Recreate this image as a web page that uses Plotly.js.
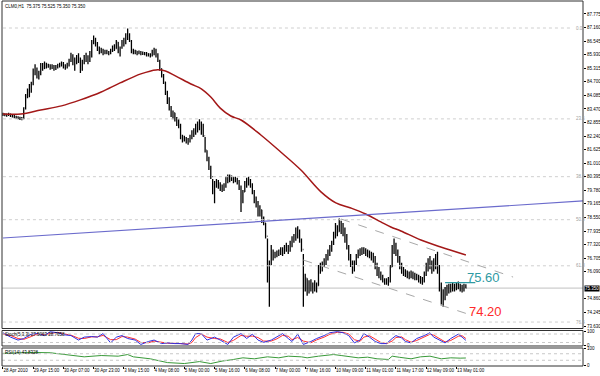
<!DOCTYPE html>
<html><head><meta charset="utf-8">
<script src="https://cdn.plot.ly/plotly-3.0.1.min.js"></script>
<style>html,body{margin:0;padding:0;background:#fff}#chart{width:600px;height:376px}</style>
</head><body><div id="chart"></div>
<script>
// ---- price bars (H1) ----
const opens=[83.22,83.25,83.20,83.22,83.24,83.15,83.18,83.10,83.08,83.05,83.02,83.05,83.50,84.05,84.25,84.45,84.60,85.20,85.10,84.95,85.10,85.45,85.30,85.50,85.38,85.45,85.30,85.42,85.28,85.40,85.45,85.50,85.55,85.38,85.35,85.48,85.70,85.90,85.55,85.65,85.85,85.70,85.30,85.60,85.85,85.80,85.65,86.00,86.50,86.60,86.40,86.20,86.05,86.15,86.00,86.10,86.00,86.05,86.15,86.30,86.20,86.50,86.10,86.25,86.50,86.60,86.80,86.75,86.55,86.10,86.05,86.10,85.98,86.05,85.95,86.02,85.95,85.98,85.90,85.95,86.10,86.05,85.90,85.65,85.30,85.00,84.70,84.20,83.85,83.55,83.20,83.30,83.00,82.85,82.75,82.20,82.10,82.05,82.00,82.05,82.25,82.40,82.50,82.70,82.80,82.60,82.40,82.25,81.60,81.20,80.80,80.40,79.80,80.00,80.20,79.95,79.85,79.80,80.00,80.30,80.40,80.30,80.35,80.20,80.30,80.10,79.90,79.30,79.70,80.10,80.25,80.15,79.95,79.70,79.30,79.20,78.80,78.90,78.45,78.30,77.70,76.00,76.40,76.90,76.80,76.90,76.85,77.00,77.10,76.95,77.20,77.10,77.20,77.40,77.60,77.70,78.00,77.80,77.50,77.10,75.30,75.80,75.30,75.50,75.40,75.30,75.55,75.45,76.20,76.30,76.45,76.60,76.80,77.00,77.20,77.40,77.80,78.10,77.90,78.30,78.00,77.80,77.50,77.20,76.70,76.40,76.20,76.50,76.80,77.00,76.95,77.10,77.00,76.90,77.00,76.80,76.70,76.60,76.30,76.00,75.90,75.80,75.70,75.60,75.65,75.70,76.30,77.10,77.20,76.90,76.60,76.30,76.10,76.00,76.10,75.90,76.00,75.95,75.85,75.90,75.80,75.70,75.60,75.75,76.00,76.40,76.50,76.40,76.20,76.50,76.70,76.20,75.40,74.90,75.00,75.30,75.20,75.45,75.30,75.50,75.35,75.50,75.40,75.30,75.40,75.375];
const highs=[83.30,83.28,83.26,83.30,83.26,83.22,83.20,83.16,83.14,83.12,83.10,83.55,84.15,84.40,84.60,84.70,85.30,85.50,85.35,85.20,85.55,85.55,85.62,85.56,85.52,85.50,85.50,85.46,85.46,85.52,85.56,85.62,85.60,85.50,85.56,85.75,86.02,85.95,85.80,85.92,86.00,85.80,85.70,85.92,86.02,85.90,86.10,86.60,86.80,86.70,86.50,86.30,86.25,86.20,86.15,86.15,86.10,86.20,86.35,86.40,86.60,86.50,86.30,86.60,86.70,86.90,87.12,86.90,86.60,86.20,86.15,86.10,86.12,86.10,86.08,86.05,86.05,86.00,86.00,86.15,86.25,86.20,86.00,85.70,85.30,85.05,84.70,84.30,84.00,83.60,83.40,83.30,83.10,83.00,82.80,82.30,82.25,82.20,82.15,82.30,82.50,82.60,82.80,82.90,83.00,82.90,82.80,82.20,81.60,81.30,80.90,80.30,80.20,80.30,80.25,80.15,80.05,80.10,80.40,80.50,80.50,80.45,80.40,80.40,80.35,80.25,80.00,79.80,80.20,80.35,80.40,80.30,80.10,79.80,79.50,79.30,79.10,78.90,78.60,78.30,77.60,76.60,77.30,77.10,77.00,77.05,77.10,77.20,77.20,77.30,77.40,77.30,77.50,77.70,77.80,78.10,78.15,78.00,77.60,76.90,76.00,75.80,75.70,75.75,75.60,75.70,75.60,76.40,76.50,76.55,76.70,76.90,77.10,77.30,77.50,77.90,78.30,78.20,78.50,78.40,78.30,78.10,77.80,77.30,76.90,76.60,76.60,76.90,77.10,77.15,77.20,77.20,77.15,77.10,77.05,77.00,76.95,76.80,76.50,76.30,76.10,75.95,75.80,75.80,75.85,76.40,77.30,77.60,77.40,77.10,76.80,76.50,76.30,76.20,76.15,76.10,76.15,76.10,76.05,76.00,75.95,75.90,75.85,76.10,76.50,76.70,76.80,76.60,76.70,76.90,77.00,76.40,75.60,75.30,75.40,75.50,75.55,75.55,75.60,75.55,75.60,75.65,75.55,75.50,75.55,75.525];
const lows=[83.15,83.14,83.12,83.15,83.10,83.08,83.05,83.02,83.00,82.97,82.96,83.00,83.45,83.95,84.00,84.20,84.55,85.00,84.85,84.80,85.00,85.20,85.28,85.30,85.34,85.25,85.28,85.20,85.24,85.30,85.35,85.40,85.30,85.25,85.30,85.40,85.60,85.45,85.20,85.50,85.55,85.10,85.20,85.50,85.60,85.50,85.60,85.80,86.40,86.30,86.10,85.95,86.00,85.90,85.95,85.95,85.90,85.95,86.05,86.10,86.20,86.00,85.85,86.20,86.30,86.40,86.60,86.50,86.00,85.95,85.95,85.90,85.95,85.90,85.92,85.90,85.85,85.85,85.80,85.85,85.90,85.80,85.60,85.20,84.90,84.60,84.10,83.70,83.40,83.10,83.00,82.90,82.70,82.60,82.10,81.95,82.00,81.90,81.85,81.95,82.10,82.20,82.30,82.40,82.50,82.30,82.20,81.50,81.10,80.70,80.30,79.60,79.20,79.90,79.85,79.75,79.70,79.75,79.90,80.10,80.15,80.20,80.10,80.15,80.05,79.80,78.80,79.20,79.70,79.90,80.00,79.90,79.60,79.20,79.00,78.60,78.60,78.30,78.20,77.60,75.60,74.50,76.40,76.60,76.70,76.75,76.80,76.85,76.80,76.90,77.00,76.90,77.00,77.20,77.40,77.50,77.60,77.40,77.00,74.50,75.20,75.00,75.10,75.20,75.10,75.20,75.15,75.45,76.00,76.10,76.30,76.40,76.60,76.80,77.00,77.30,77.60,77.70,77.90,77.80,77.70,77.40,77.10,76.60,76.30,76.00,76.10,76.40,76.70,76.80,76.85,76.90,76.80,76.75,76.70,76.60,76.50,76.20,75.90,75.80,75.70,75.60,75.50,75.50,75.45,75.60,76.30,76.90,76.80,76.50,76.20,76.00,75.90,75.85,75.80,75.75,75.80,75.75,75.70,75.70,75.60,75.55,75.50,75.60,75.90,76.10,76.20,76.00,76.10,76.20,76.00,75.20,74.60,74.50,74.80,75.00,75.10,75.15,75.20,75.20,75.25,75.30,75.20,75.15,75.20,75.35];
const closes=[83.25,83.20,83.22,83.24,83.15,83.18,83.10,83.08,83.05,83.02,83.05,83.50,84.05,84.25,84.45,84.60,85.20,85.10,84.95,85.10,85.45,85.30,85.50,85.38,85.45,85.30,85.42,85.28,85.40,85.45,85.50,85.55,85.38,85.35,85.48,85.70,85.90,85.55,85.65,85.85,85.70,85.30,85.60,85.85,85.80,85.65,86.00,86.50,86.60,86.40,86.20,86.05,86.15,86.00,86.10,86.00,86.05,86.15,86.30,86.20,86.50,86.10,86.25,86.50,86.60,86.80,86.75,86.55,86.10,86.05,86.10,85.98,86.05,85.95,86.02,85.95,85.98,85.90,85.95,86.10,86.05,85.90,85.65,85.30,85.00,84.70,84.20,83.85,83.55,83.20,83.30,83.00,82.85,82.75,82.20,82.10,82.05,82.00,82.05,82.25,82.40,82.50,82.70,82.80,82.60,82.40,82.25,81.60,81.20,80.80,80.40,79.80,80.00,80.20,79.95,79.85,79.80,80.00,80.30,80.40,80.30,80.35,80.20,80.30,80.10,79.90,79.30,79.70,80.10,80.25,80.15,79.95,79.70,79.30,79.20,78.80,78.90,78.45,78.30,77.70,76.00,76.40,76.90,76.80,76.90,76.85,77.00,77.10,76.95,77.20,77.10,77.20,77.40,77.60,77.70,78.00,77.80,77.50,77.10,75.30,75.80,75.30,75.50,75.40,75.30,75.55,75.45,76.20,76.30,76.45,76.60,76.80,77.00,77.20,77.40,77.80,78.10,77.90,78.30,78.00,77.80,77.50,77.20,76.70,76.40,76.20,76.50,76.80,77.00,76.95,77.10,77.00,76.90,77.00,76.80,76.70,76.60,76.30,76.00,75.90,75.80,75.70,75.60,75.65,75.70,76.30,77.10,77.20,76.90,76.60,76.30,76.10,76.00,76.10,75.90,76.00,75.95,75.85,75.90,75.80,75.70,75.60,75.75,76.00,76.40,76.50,76.40,76.20,76.50,76.70,76.20,75.40,74.90,75.00,75.30,75.20,75.45,75.30,75.50,75.35,75.50,75.40,75.30,75.40,75.375,75.35];

// ---- moving average (sampled readings) ----
const maIdx=[0,9.5,20,31,41,52,62,73,81,86,91.5,99.5,105,110,115,120.6,126,136.5,147,157.7,168.3,176.2,184.1,192,200,205.3,210.6,221.2,231.7,245];
const maVal=[83.24,83.24,83.42,83.61,83.88,84.24,84.65,85.06,85.24,85.19,84.96,84.60,84.38,84.01,83.51,83.15,82.97,82.29,81.52,80.70,79.71,79.21,78.98,78.71,78.35,78.12,77.94,77.53,77.21,76.85];

// ---- drawn objects ----
const trendX=[0,307], trendY=[77.62,79.30];
const chanUpX=[179,270], chanUpY=[78.48,75.85];
const chanLoX=[159,249], chanLoY=[76.62,74.09];
const tealX=[234,250], tealY=[75.60,75.60];
const fibLevels=[87.14,83.02,80.40,78.45,76.36,73.81];
const fibLabels=["0.0","23.6","38.2","50.0","61.8","76.4"];
const fibSpan=[0,301];
const bidPrice=75.35;

// ---- axes ----
const tickIdx=[0,16,32,48,64,80,96,112,128,144,160,176,192,208,224,240];
const tickLabels=["28 Apr 2010","29 Apr 15:00","30 Apr 07:00","30 Apr 23:00","3 May 15:00","4 May 08:00","5 May 00:00","5 May 16:00","6 May 08:00","7 May 00:00","7 May 16:00","10 May 09:00","11 May 01:00","11 May 17:00","12 May 09:00","13 May 01:00"];
const priceTicks=[87.775,87.160,86.545,85.930,85.315,84.700,84.085,83.470,82.855,82.240,81.625,81.010,80.395,79.780,79.165,78.550,77.935,77.320,76.705,76.090,74.860,74.245,73.630];

// ---- stochastic ----
const stIdx=[0,4,8,11,15,18,22,25,29,32,36,40,43,47,50,53,57,60,63,66,70,73,77,80,84,87,91,94,98,100,102,105,108,112,115,119,122,126,129,132,135,138,142,145,148,151,153,156,159,163,166,170,173,177,180,183,186,189,191,194,197,200,203,206,208,211,213,216,219,223,226,228,232,234,237,241,243,245];
const stMain=[89,58,37,48,79,83,69,96,89,75,69,37,58,62,58,83,17,58,69,48,37,6,27,37,12,17,12,12,6,37,83,82,37,58,37,6,58,83,48,79,37,21,37,58,83,48,27,79,6,27,48,69,89,97,89,69,17,37,83,58,27,12,12,48,69,52,27,17,48,69,89,58,27,17,48,79,58,35];
const stSignal=[80,70,48,42,62,80,76,84,92,82,72,50,48,60,60,70,40,40,62,58,44,20,18,30,22,15,14,12,9,20,55,80,58,48,45,20,35,70,64,65,55,30,30,46,70,64,40,55,30,18,38,58,78,92,92,80,40,28,58,68,42,20,12,30,55,60,40,22,34,58,78,72,42,24,34,64,68,48];

// ---- RSI ----
const rsiIdx=[0,9,16,25,34,43,52,61,66,69,78,87,96,104,110,116,122,127,133,140,146,151,158,161,167,172,175,179,183,188,193,198,204,206,210,216,221,226,232,237,242,245];
const rsiVal=[72,76,78,76,65,51,59,55,65,51,39,16,10,22,10,25,35,45,39,51,45,55,51,45,55,59,65,59,51,45,49,39,35,55,48,39,51,55,39,45,43,44];

const barIdx=closes.map((_,i)=>i);
const traces=[];
fibLevels.forEach(l=>traces.push({type:'scatter',mode:'lines',x:fibSpan,y:[l,l],line:{color:'#cfcfcf',width:1,dash:'dot'},hoverinfo:'skip'}));
traces.push({type:'ohlc',x:barIdx,open:opens,high:highs,low:lows,close:closes,
  increasing:{line:{color:'#000',width:1.3}},decreasing:{line:{color:'#000',width:1.3}},tickwidth:0.3,hoverinfo:'skip'});
traces.push({type:'scatter',mode:'lines',x:maIdx,y:maVal,line:{color:'#a31818',width:1.5,shape:'spline'},hoverinfo:'skip'});
traces.push({type:'scatter',mode:'lines',x:trendX,y:trendY,line:{color:'#6b6bcc',width:1.2},hoverinfo:'skip'});
traces.push({type:'scatter',mode:'lines',x:chanUpX,y:chanUpY,line:{color:'#a8a8a8',width:1,dash:'dash'},hoverinfo:'skip'});
traces.push({type:'scatter',mode:'lines',x:chanLoX,y:chanLoY,line:{color:'#a8a8a8',width:1,dash:'dash'},hoverinfo:'skip'});
traces.push({type:'scatter',mode:'lines',x:tealX,y:tealY,line:{color:'#2f9aa3',width:1.3},hoverinfo:'skip'});
traces.push({type:'scatter',mode:'lines',x:stIdx,y:stSignal,yaxis:'y2',line:{color:'#ff3030',width:1},hoverinfo:'skip'});
traces.push({type:'scatter',mode:'lines',x:stIdx,y:stMain,yaxis:'y2',line:{color:'#3030e0',width:1},hoverinfo:'skip'});
traces.push({type:'scatter',mode:'lines',x:rsiIdx,y:rsiVal,yaxis:'y3',line:{color:'#3a9a3a',width:1},hoverinfo:'skip'});

const F='Liberation Sans, Arial, sans-serif';
const small={family:F,size:4.5,color:'#000'};
const frame=(ref)=>({type:'rect',xref:'paper',yref:ref+' domain',x0:0,x1:1,y0:0,y1:1,line:{color:'#303030',width:1},fillcolor:'rgba(0,0,0,0)'});
const lvl=(ax,v)=>({type:'line',xref:'paper',yref:ax,x0:0,x1:1,y0:v,y1:v,line:{color:'#c8c8c8',width:1,dash:'dot'}});

const annotations=[
  {xref:'paper',yref:'paper',x:0,y:1,xanchor:'left',yanchor:'top',xshift:1,yshift:-1,text:'CLM0,H1  75.375 75.525 75.350 75.350',showarrow:false,font:small},
  {xref:'paper',yref:'y2 domain',x:0,y:1,xanchor:'left',yanchor:'top',xshift:1,text:'Stoch(5,3,3) 27.5063 28.7658',showarrow:false,font:small},
  {xref:'paper',yref:'y3 domain',x:0,y:1,xanchor:'left',yanchor:'top',xshift:1,text:'RSI(14) 43.8328',showarrow:false,font:small},
  {xref:'paper',yref:'y',x:1,y:bidPrice,xanchor:'left',yanchor:'middle',xshift:1,text:'75.350',showarrow:false,bgcolor:'#000',borderpad:0,font:{family:F,size:4.5,color:'#fff'}},
  {xref:'x',yref:'y',x:254.5,y:75.81,text:'75.60',showarrow:false,font:{family:F,size:13,color:'#2f9aa3'}},
  {xref:'x',yref:'y',x:255.5,y:74.31,text:'74.20',showarrow:false,font:{family:F,size:13,color:'#ff2a2a'}}
];
fibLevels.forEach((l,k)=>annotations.push({xref:'x',yref:'y',x:fibSpan[1]+1,y:l,xanchor:'left',yanchor:'middle',text:fibLabels[k],showarrow:false,font:{family:F,size:4.5,color:'#a0a0a0'}}));

const yCommon={side:'right',showgrid:false,zeroline:false,ticks:'outside',ticklen:2,tickcolor:'#000',tickfont:small,showline:false,fixedrange:true};
const layout={
  width:600,height:376,margin:{l:2,r:17,t:1,b:10},
  paper_bgcolor:'#fff',plot_bgcolor:'#fff',showlegend:false,font:small,
  xaxis:{range:[-0.5,307],anchor:'y3',tickvals:tickIdx,ticktext:tickLabels,ticks:'outside',ticklen:2,tickcolor:'#000',tickangle:0,
    ticklabelposition:'outside right',showgrid:false,zeroline:false,showline:false,tickfont:small,rangeslider:{visible:false},fixedrange:true},
  yaxis:Object.assign({},yCommon,{domain:[0.1027,1],range:[73.517,88.364],tickvals:priceTicks,ticktext:priceTicks.map(v=>v.toFixed(3))}),
  yaxis2:Object.assign({},yCommon,{domain:[0.0548,0.0973],range:[-5,105],tickvals:[0,100],ticktext:['0','100']}),
  yaxis3:Object.assign({},yCommon,{domain:[0,0.0493],range:[-5,105],tickvals:[0,100],ticktext:['0','100']}),
  shapes:[
    {type:'line',xref:'paper',yref:'y',x0:0,x1:1,y0:bidPrice,y1:bidPrice,line:{color:'#c0c0c0',width:1},layer:'below'},
    lvl('y2',80),lvl('y2',20),lvl('y3',70),lvl('y3',30),
    frame('y'),frame('y2'),frame('y3')
  ],
  annotations:annotations
};
Plotly.newPlot('chart',traces,layout,{staticPlot:true,displayModeBar:false});
</script>
</body></html>
